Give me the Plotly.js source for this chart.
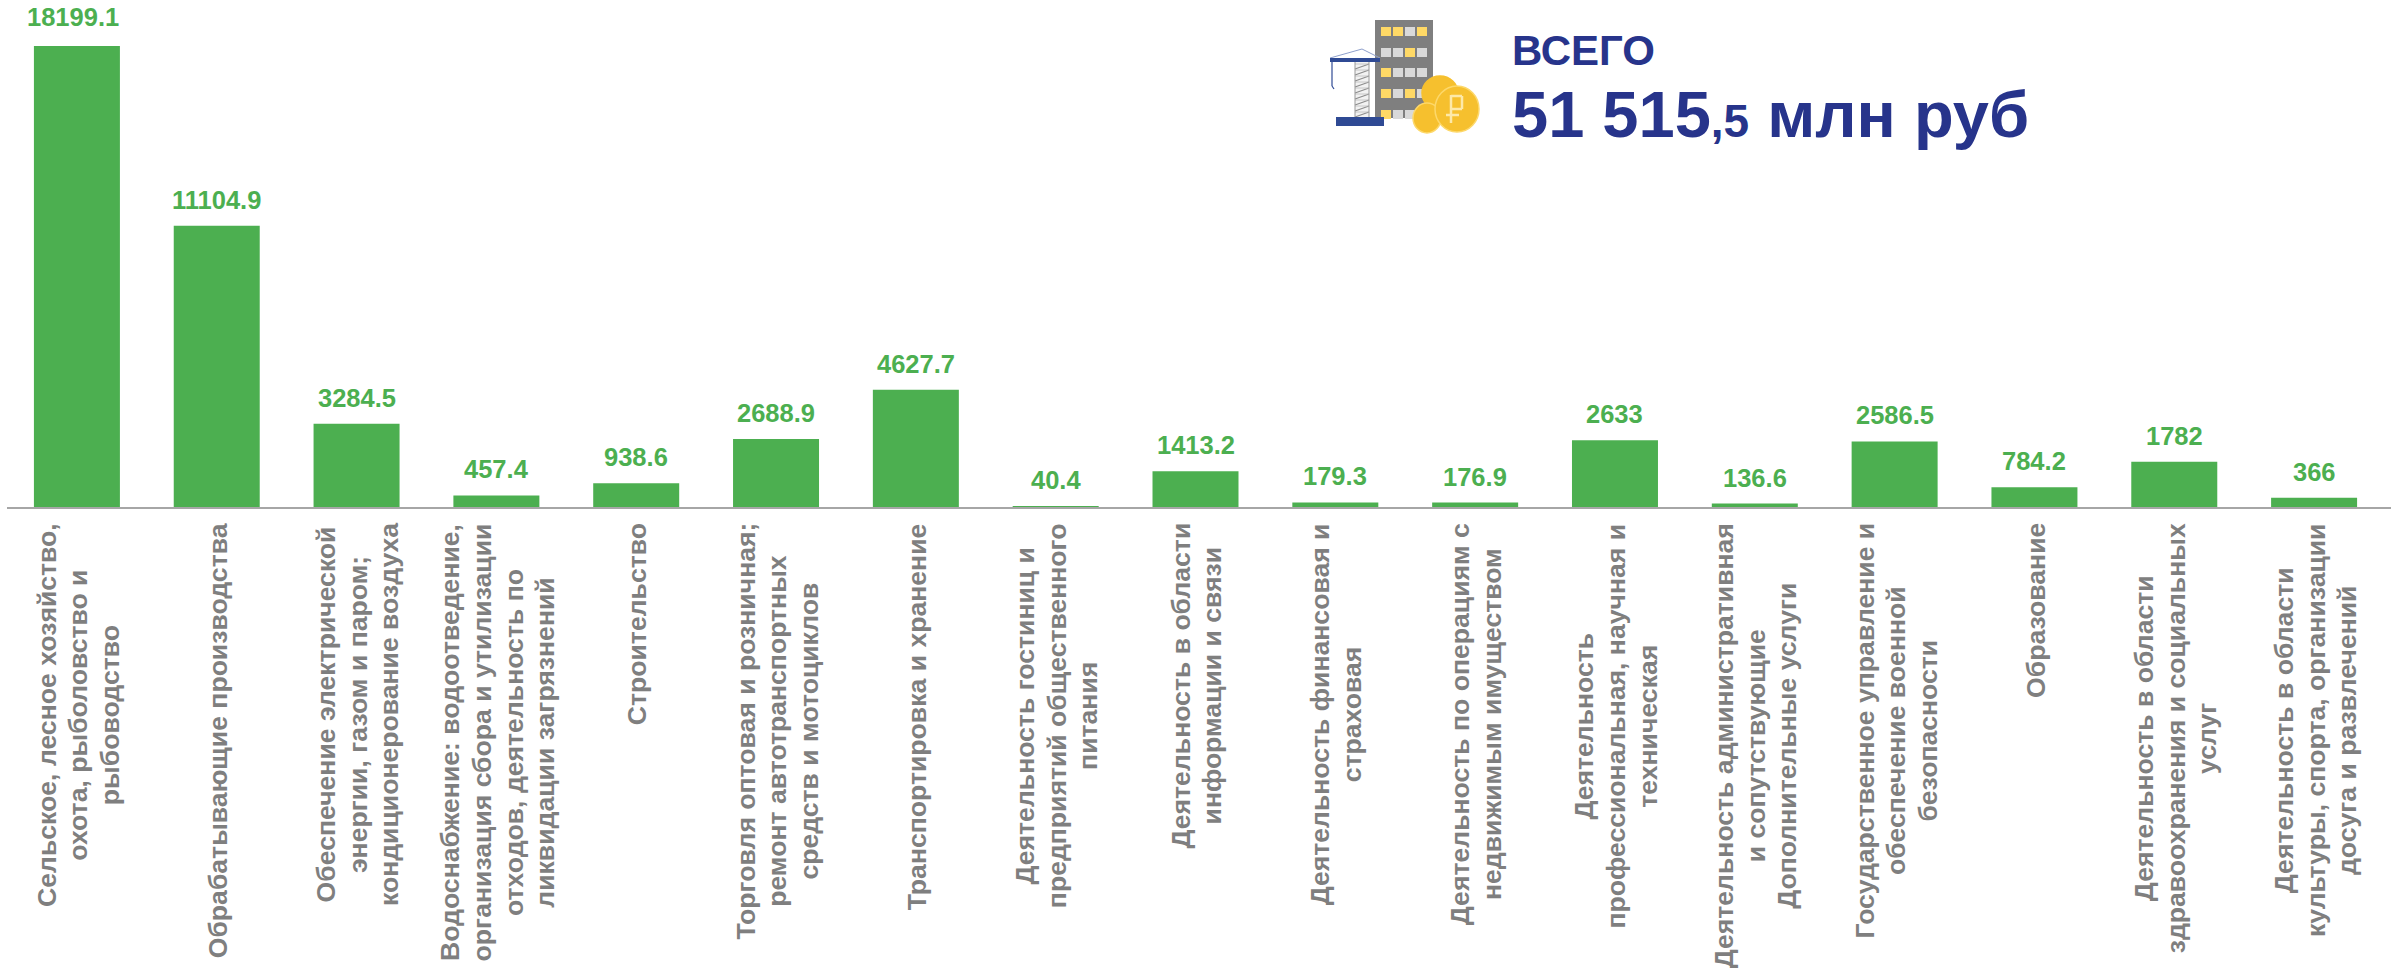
<!DOCTYPE html>
<html><head><meta charset="utf-8">
<script src="https://cdn.plot.ly/plotly-3.0.1.min.js"></script>
<style>html,body{margin:0;padding:0;background:#fff}#c{width:2392px;height:969px}</style>
</head><body><div id="c"></div>
<script>
const categories = [
 "Сельское, лесное хозяйство,<br>охота, рыболовство и<br>рыбоводство",
 "Обрабатывающие производства",
 "Обеспечение электрической<br>энергии, газом и паром;<br>кондиционерование воздуха",
 "Водоснабжение: водоотведение,<br>организация сбора и утилизации<br>отходов, деятельность по<br>ликвидации загрязнений",
 "Строительство",
 "Торговля оптовая и розничная;<br>ремонт автотранспортных<br>средств и мотоциклов",
 "Транспортировка и хранение",
 "Деятельность гостиниц и<br>предприятий общественного<br>питания",
 "Деятельность в области<br>информации и связи",
 "Деятельность финансовая и<br>страховая",
 "Деятельность по операциям с<br>недвижимым имуществом",
 "Деятельность<br>профессиональная, научная и<br>техническая",
 "Деятельность административная<br>и сопутствующие<br>Дополнительные услуги",
 "Государственное управление и<br>обеспечение военной<br>безопасности",
 "Образование",
 "Деятельность в области<br>здравоохранения и социальных<br>услуг",
 "Деятельность в области<br>культуры, спорта, организации<br>досуга и развлечений"
];
const values = [18199.1,11104.9,3284.5,457.4,938.6,2688.9,4627.7,40.4,1413.2,179.3,176.9,2633,136.6,2586.5,784.2,1782,366];
const positions = categories.map((_, i) => i);

const W = 2392, H = 969, L = 7, R = 1, T = 0, B = 462;
const GREEN = "#4caf50", NAVY = "#27348b", GREY = "#7f7f7f";
const px = x => (x - L) / (W - L - R);
const py = y => 1 - (y - T) / (H - T - B);
const shapes = [];
function rect(x0,y0,x1,y1,c){shapes.push({type:"rect",xref:"paper",yref:"paper",x0:px(x0),x1:px(x1),y0:py(y1),y1:py(y0),fillcolor:c,line:{width:0},layer:"above"});}
function oval(cx,cy,rx,ry,c,lc){shapes.push({type:"circle",xref:"paper",yref:"paper",x0:px(cx-rx),x1:px(cx+rx),y0:py(cy+ry),y1:py(cy-ry),fillcolor:c,line:{width:1.5,color:lc||c},layer:"above"});}
function line(x0,y0,x1,y1,c,w){shapes.push({type:"line",xref:"paper",yref:"paper",x0:px(x0),x1:px(x1),y0:py(y0),y1:py(y1),line:{width:w,color:c},layer:"above"});}
rect(1375,20,1433,118,"#7f7f7f");
const Y="#ffd966",G="#d9d9d9";
const winColors=[[Y,Y,G,Y],[G,G,Y,G],[Y,G,G,G],[Y,G,Y,G],[Y,G,G,G]];
const winX=[1381,1393,1405,1417], winY=[27,48,68,89,110];
winColors.forEach((row,r)=>row.forEach((c,k)=>rect(winX[k],winY[r],winX[k]+10,winY[r]+9,c)));
rect(1355,62,1369,117,"#f2f2f2");
for(let yy=64;yy<116;yy+=6){line(1355,yy+5,1369,yy,"#8c8c8c",1.2);line(1355,yy,1369,yy,"#bdbdbd",0.8);}
line(1355,62,1355,117,"#9a9a9a",1);line(1369,62,1369,117,"#9a9a9a",1);
line(1330,58,1362,49,"#8fa0cc",1);line(1362,49,1380,58,"#8fa0cc",1);
rect(1330,58,1380,62,"#2f4a94");
line(1332,62,1332,86,"#2f4a94",1.2);
line(1332,86,1334,89,"#2f4a94",1.2);
rect(1336,117,1384,126,"#2f4a94");
oval(1440,93,18,17,"#f6c02e");
oval(1427,118,14,15,"#f6c02e","#fdd86a");
oval(1457,109,22,23,"#f6c02e","#fdd86a");
line(1451,95,1451,123,"#fde9a8",2.5);
line(1451,96,1462,96,"#fde9a8",2.5);line(1451,109,1462,109,"#fde9a8",2.5);line(1462,96,1462,109,"#fde9a8",2.5);
line(1446,115,1459,115,"#fde9a8",2.5);

const annotations = values.map((v,i)=>({x:i,y:v,xref:"x",yref:"y",text:String(v),showarrow:false,yanchor:"bottom",xanchor:"center",
  yshift:i===0?13:10,xshift:i===0?-4:0,
  font:{family:"Liberation Sans",size:25.5,color:GREEN,weight:700}}));
categories.forEach((c,i)=>annotations.push({x:i,y:0,xref:"x",yref:"y",yanchor:"top",xanchor:"center",xshift:1,yshift:-14,showarrow:false,
  textangle:-90,align:"center",
  text:'<span style="font-size:26.6px">'+c.split("<br>").map(s=>"<b>"+s+"</b>").join("<br>")+"</span>",
  font:{family:"Liberation Sans",size:24.3,color:GREY}}));
annotations.push({xref:"paper",yref:"paper",x:px(1510),y:py(50),xanchor:"left",yanchor:"middle",showarrow:false,align:"left",
  text:"<b>ВСЕГО</b>",font:{family:"Liberation Sans",size:42,color:NAVY}});
annotations.push({xref:"paper",yref:"paper",x:px(1510),y:py(114),xanchor:"left",yanchor:"middle",showarrow:false,align:"left",
  text:'<b>51 515<span style="font-size:46px">,5</span> млн руб</b>',font:{family:"Liberation Sans",size:65,color:NAVY}});

Plotly.newPlot("c",[{type:"bar",x:positions,y:values,width:0.615,marker:{color:GREEN},hoverinfo:"skip",cliponaxis:false}],{
  width:W,height:H,margin:{l:L,r:R,t:T,b:B,pad:0},paper_bgcolor:"#fff",plot_bgcolor:"#fff",showlegend:false,
  font:{family:"Liberation Sans"},
  xaxis:{type:"linear",range:[-0.5,16.55],showticklabels:false,ticks:"",showline:true,linecolor:"#a6a6a6",linewidth:2,showgrid:false,zeroline:false,automargin:false},
  yaxis:{range:[0,18199.1*507/461],visible:false,showgrid:false,zeroline:false,fixedrange:true},
  annotations,shapes
},{displayModeBar:false,staticPlot:true});
</script></body></html>
